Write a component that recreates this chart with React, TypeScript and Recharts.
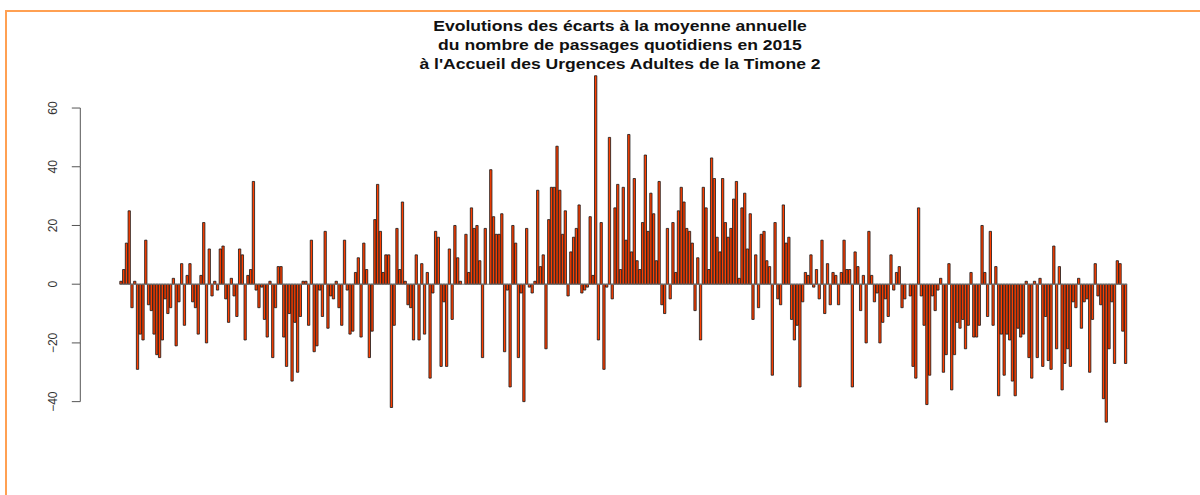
import { BarChart, Bar, XAxis, YAxis, ReferenceLine } from 'recharts';

// écarts journaliers à la moyenne annuelle, un tableau par mois (2015)
const JAN = [1, 5, 14, 25, -8, 1, -29, -17, -19, 15, -7, -9, -17, -24, -25, -19, -5, -10, -8, 2, -21, -6, 7, -14, 3, 7, -6, -8, -17, 3, 21];
const FEB = [-20, 12, -4, 1, -2, 12, 13, -5, -13, 2, -4, -11, 12, 10, -19, 3, 5, 35, -2, -8, -1, -12, -18, 1, -25, -8, 6, 6];
const MAR = [-18, -28, -10, -33, -13, -30, -11, 1, 1, -14, 15, -23, -21, -2, -11, 18, -15, -4, -5, 1, -8, -14, 15, -2, -17, -16, 4, 9, -18, 14, 5];
const APR = [-25, -16, 22, 34, 18, 4, 10, 10, -42, -14, 19, 5, 28, 1, -7, -8, -19, 10, -19, 7, -17, 4, -32, -3, 18, 16, -28, -6, -28, 12];
const MAY = [-12, 20, 9, 1, 0, 17, 4, 26, 19, 20, 8, -25, 19, 0, 39, 23, 17, 17, 24, -23, -2, -35, 20, 14, -25, -3, -40, 19, -1, -3, 1];
const JUN = [32, 6, 10, -22, 22, 33, 33, 47, 32, 17, 25, -4, 11, 16, 19, 27, -3, -2, -1, 23, 3, 71, -19, 21, -29, -1, 50, -5, 26, 34];
const JUL = [5, 33, 15, 51, 11, 36, 8, 5, 21, 44, 18, 31, 24, 8, 35, -7, -10, 19, -5, 21, 4, 25, 33, 28, 19, 18, 14, -9, 9, -19, 33];
const AUG = [26, 5, 43, 36, 16, 11, 36, 21, 16, 19, 29, 35, 2, 26, 31, 12, 24, -12, 10, -8, 17, 18, 8, 6, -31, 21, -5, -7, 27, 14, 16];
const SEP = [-12, -19, -14, -35, -6, 4, 3, 10, -1, 5, -5, 15, -10, 7, -7, 4, 3, -7, 4, 15, 5, 5, -35, 11, 6, -9, 3, -20, 18, 3];
const OCT = [-6, -3, -20, -13, -5, -11, 10, -2, 4, 6, -8, -5, 0, -4, -28, -32, 26, -4, -14, -41, -31, -4, -9, -2, 2, -30, -24, 7, -36, -24, -13];
const NOV = [-15, -12, -22, -14, 4, -18, -18, -14, 20, 4, -11, 18, -14, 6, -38, -17, -31, -17, -19, -33, -38, -15, -18, -17, 1, -25, -32, 1, -25, 2];
const DEC = [-28, -11, -26, -29, 13, -22, 6, -36, -27, -22, -28, -6, -8, 2, -15, -6, -5, -30, -12, 7, -4, -7, -39, -47, -22, -6, -27, 8, 7, -16, -27];

const MONTHS = [JAN, FEB, MAR, APR, MAY, JUN, JUL, AUG, SEP, OCT, NOV, DEC];
const Y_TICKS = [-40, -20, 0, 20, 40, 60];
const Y_DOMAIN: [number, number] = [-50, 75];
const TITLE = [
  'Evolutions des écarts à la moyenne annuelle',
  'du nombre de passages quotidiens en 2015',
  "à l'Accueil des Urgences Adultes de la Timone 2",
];

const data = MONTHS.flat().map((ecart, i) => ({ jour: i + 1, ecart }));

const W = 1200;
const H = 495;
const MARGIN = { top: 64, right: 72.8, bottom: 64, left: 39.8 };
const PX_PER_UNIT = (H - MARGIN.top - MARGIN.bottom) / (Y_DOMAIN[1] - Y_DOMAIN[0]);
const AXIS_GAP = 39.5; // R draws the axis away from the bars

function AxisTick(props: any) {
  const { x, y, payload } = props;
  const ax = x - AXIS_GAP;
  const v = payload.value as number;
  const label = v < 0 ? `\u2212${Math.abs(v)}` : String(v);
  const lx = ax - 27;
  return (
    <g>
      {v < Y_TICKS[Y_TICKS.length - 1] && (
        <line x1={ax} x2={ax} y1={y} y2={y - 20 * PX_PER_UNIT} stroke="#555" strokeWidth={1} />
      )}
      <line x1={ax - 8.5} x2={ax} y1={y} y2={y} stroke="#555" strokeWidth={1} />
      <text
        x={lx}
        y={y}
        transform={`rotate(-90 ${lx} ${y})`}
        textAnchor="middle"
        dominantBaseline="central"
        fontFamily="'Liberation Sans', Arial, sans-serif"
        fontSize={12}
        fill="#333"
      >
        {label}
      </text>
    </g>
  );
}

export default function App() {
  return (
    <div
      style={{
        position: 'absolute',
        left: 0,
        top: 0,
        width: W,
        height: H,
        overflow: 'hidden',
        background: '#fff',
      }}
    >
      {/* cadre orange */}
      <div
        style={{
          position: 'absolute',
          left: 5,
          top: 10,
          width: 1300,
          height: 600,
          border: '2px solid #FFA052',
          boxSizing: 'border-box',
        }}
      />
      <div
        style={{
          position: 'absolute',
          left: 320,
          top: 15.8,
          width: 600,
          textAlign: 'center',
          fontFamily: "'Liberation Sans', Arial, sans-serif",
          fontWeight: 'bold',
          fontSize: 15,
          lineHeight: '19.2px',
          color: '#111',
          transform: 'scaleX(1.17)',
          transformOrigin: '300px 0',
        }}
      >
        {TITLE.map((t) => (
          <div key={t}>{t}</div>
        ))}
      </div>
      <div style={{ position: 'absolute', left: 0, top: 0 }}>
        <BarChart width={W} height={H} data={data} margin={MARGIN}>
          <XAxis dataKey="jour" hide />
          <YAxis
            type="number"
            domain={Y_DOMAIN}
            ticks={Y_TICKS}
            width={80}
            axisLine={false}
            tickLine={false}
            tickSize={0}
            tickMargin={0}
            tick={<AxisTick />}
          />
          <Bar
            dataKey="ecart"
            fill="#FF3F00"
            stroke="#161616"
            strokeWidth={0.8}
            barSize={2.3}
            isAnimationActive={false}
          />
          <ReferenceLine y={0} stroke="#7a7a7a" strokeWidth={1} />
        </BarChart>
      </div>
    </div>
  );
}
